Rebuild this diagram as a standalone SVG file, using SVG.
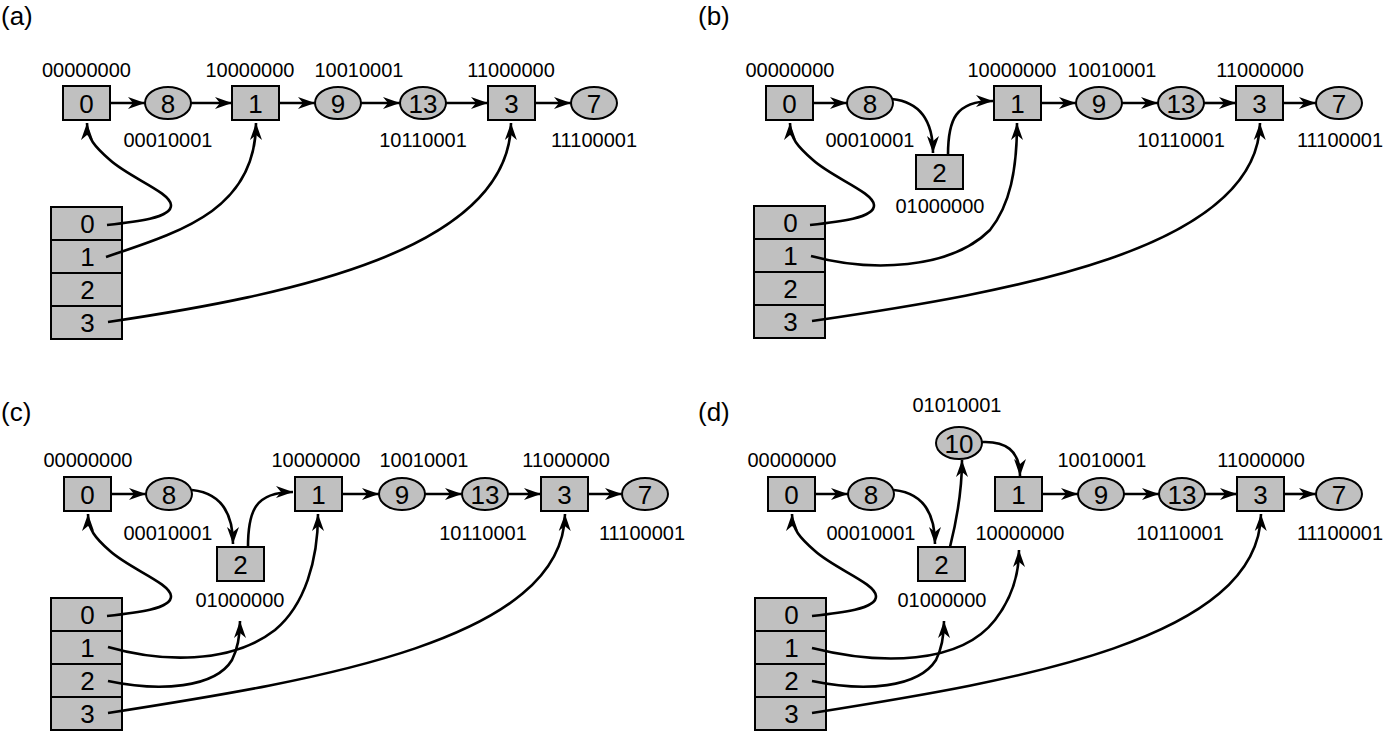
<svg xmlns="http://www.w3.org/2000/svg" width="1385" height="731" viewBox="0 0 1385 731">
<style>
.n{fill:#c0c0c0;stroke:#000;stroke-width:2}
.t{font-family:"Liberation Sans",Arial,sans-serif;font-size:26px;text-anchor:middle;fill:#000}
.l{font-family:"Liberation Sans",Arial,sans-serif;font-size:20px;text-anchor:middle;fill:#000}
.p{font-family:"Liberation Sans",Arial,sans-serif;font-size:26px;fill:#000}
.c{fill:none;stroke:#000;stroke-width:2.6;marker-end:url(#ah)}
</style>
<defs>
<marker id="ah" markerUnits="userSpaceOnUse" viewBox="-18 -7 19 14" refX="0" refY="0" markerWidth="19" markerHeight="14" orient="auto">
<path d="M0,0 L-17,-6 L-12,0 L-17,6 Z" fill="#000"/>
</marker>
</defs>
<rect width="1385" height="731" fill="#fff"/>

<!-- Panel labels -->
<text class="p" x="1" y="25">(a)</text>
<text class="p" x="698" y="25">(b)</text>
<text class="p" x="1" y="421">(c)</text>
<text class="p" x="698" y="421">(d)</text>

<!-- ===== Panel (a) ===== -->
<g id="a-n0"><rect class="n" x="63" y="86" width="47" height="34"/><text class="t" x="86.5" y="112.5">0</text><text class="l" x="86.5" y="77">00000000</text></g>
<g id="a-n8"><ellipse class="n" cx="168" cy="103" rx="23" ry="16"/><text class="t" x="168" y="112.5">8</text><text class="l" x="168" y="147">00010001</text></g>
<g id="a-n1"><rect class="n" x="232" y="86" width="47" height="34"/><text class="t" x="255.5" y="112.5">1</text><text class="l" x="250" y="77">10000000</text></g>
<g id="a-n9"><ellipse class="n" cx="338" cy="103" rx="23" ry="16"/><text class="t" x="338" y="112.5">9</text><text class="l" x="359" y="77">10010001</text></g>
<g id="a-n13"><ellipse class="n" cx="423" cy="103" rx="23" ry="16"/><text class="t" x="423" y="112.5">13</text><text class="l" x="423" y="147">10110001</text></g>
<g id="a-n3"><rect class="n" x="488" y="86" width="47" height="34"/><text class="t" x="511.5" y="112.5">3</text><text class="l" x="511" y="77">11000000</text></g>
<g id="a-n7"><ellipse class="n" cx="594" cy="103" rx="23" ry="16"/><text class="t" x="594" y="112.5">7</text><text class="l" x="594" y="147">11100001</text></g>
<g id="a-table">
<g id="a-r0"><rect class="n" x="51" y="207" width="71" height="33"/><text class="t" x="87.5" y="233">0</text></g>
<g id="a-r1"><rect class="n" x="51" y="240" width="71" height="33"/><text class="t" x="87.5" y="266">1</text></g>
<g id="a-r2"><rect class="n" x="51" y="273" width="71" height="33"/><text class="t" x="87.5" y="299">2</text></g>
<g id="a-r3"><rect class="n" x="51" y="306" width="71" height="33"/><text class="t" x="87.5" y="332">3</text></g>
</g>

<!-- ===== Panel (b) ===== -->
<g id="b-n0"><rect class="n" x="766" y="86" width="47" height="34"/><text class="t" x="789.5" y="112.5">0</text><text class="l" x="790" y="77">00000000</text></g>
<g id="b-n8"><ellipse class="n" cx="870" cy="103" rx="23" ry="16"/><text class="t" x="870" y="112.5">8</text><text class="l" x="870" y="147">00010001</text></g>
<g id="b-n2"><rect class="n" x="916" y="155" width="47" height="34"/><text class="t" x="939.5" y="181.5">2</text><text class="l" x="940" y="213">01000000</text></g>
<g id="b-n1"><rect class="n" x="994" y="86" width="47" height="34"/><text class="t" x="1017.5" y="112.5">1</text><text class="l" x="1012" y="77">10000000</text></g>
<g id="b-n9"><ellipse class="n" cx="1099" cy="103" rx="23" ry="16"/><text class="t" x="1099" y="112.5">9</text><text class="l" x="1112" y="77">10010001</text></g>
<g id="b-n13"><ellipse class="n" cx="1181" cy="103" rx="23" ry="16"/><text class="t" x="1181" y="112.5">13</text><text class="l" x="1181" y="147">10110001</text></g>
<g id="b-n3"><rect class="n" x="1236" y="86" width="47" height="34"/><text class="t" x="1259.5" y="112.5">3</text><text class="l" x="1260" y="77">11000000</text></g>
<g id="b-n7"><ellipse class="n" cx="1339" cy="103" rx="23" ry="16"/><text class="t" x="1339" y="112.5">7</text><text class="l" x="1340" y="147">11100001</text></g>
<g id="b-table">
<g id="b-r0"><rect class="n" x="754" y="206" width="71" height="33"/><text class="t" x="790.5" y="232">0</text></g>
<g id="b-r1"><rect class="n" x="754" y="239" width="71" height="33"/><text class="t" x="790.5" y="265">1</text></g>
<g id="b-r2"><rect class="n" x="754" y="272" width="71" height="33"/><text class="t" x="790.5" y="298">2</text></g>
<g id="b-r3"><rect class="n" x="754" y="305" width="71" height="33"/><text class="t" x="790.5" y="331">3</text></g>
</g>

<!-- ===== Panel (c) ===== -->
<g id="c-n0"><rect class="n" x="64" y="477" width="47" height="34"/><text class="t" x="87.5" y="503.5">0</text><text class="l" x="88" y="467">00000000</text></g>
<g id="c-n8"><ellipse class="n" cx="169" cy="494" rx="23" ry="16"/><text class="t" x="169" y="503.5">8</text><text class="l" x="168" y="540">00010001</text></g>
<g id="c-n2"><rect class="n" x="217" y="547" width="47" height="34"/><text class="t" x="240.5" y="573.5">2</text><text class="l" x="240" y="607">01000000</text></g>
<g id="c-n1"><rect class="n" x="295" y="477" width="47" height="34"/><text class="t" x="318.5" y="503.5">1</text><text class="l" x="316" y="467">10000000</text></g>
<g id="c-n9"><ellipse class="n" cx="402" cy="494" rx="23" ry="16"/><text class="t" x="402" y="503.5">9</text><text class="l" x="424" y="467">10010001</text></g>
<g id="c-n13"><ellipse class="n" cx="485" cy="494" rx="23" ry="16"/><text class="t" x="485" y="503.5">13</text><text class="l" x="483" y="540">10110001</text></g>
<g id="c-n3"><rect class="n" x="541" y="477" width="47" height="34"/><text class="t" x="564.5" y="503.5">3</text><text class="l" x="566" y="467">11000000</text></g>
<g id="c-n7"><ellipse class="n" cx="645" cy="494" rx="23" ry="16"/><text class="t" x="645" y="503.5">7</text><text class="l" x="642" y="540">11100001</text></g>
<g id="c-table">
<g id="c-r0"><rect class="n" x="51" y="598" width="71" height="33"/><text class="t" x="87.5" y="624">0</text></g>
<g id="c-r1"><rect class="n" x="51" y="631" width="71" height="33"/><text class="t" x="87.5" y="657">1</text></g>
<g id="c-r2"><rect class="n" x="51" y="664" width="71" height="33"/><text class="t" x="87.5" y="690">2</text></g>
<g id="c-r3"><rect class="n" x="51" y="697" width="71" height="33"/><text class="t" x="87.5" y="723">3</text></g>
</g>

<!-- ===== Panel (d) ===== -->
<g id="d-n0"><rect class="n" x="768" y="477" width="47" height="34"/><text class="t" x="791.5" y="503.5">0</text><text class="l" x="792" y="467">00000000</text></g>
<g id="d-n8"><ellipse class="n" cx="871" cy="494" rx="23" ry="16"/><text class="t" x="871" y="503.5">8</text><text class="l" x="871" y="540">00010001</text></g>
<g id="d-n2"><rect class="n" x="918" y="547" width="47" height="34"/><text class="t" x="941.5" y="573.5">2</text><text class="l" x="942" y="607">01000000</text></g>
<g id="d-n10"><ellipse class="n" cx="959" cy="443" rx="23" ry="16"/><text class="t" x="959" y="452.5">10</text><text class="l" x="957" y="412">01010001</text></g>
<g id="d-n1"><rect class="n" x="995" y="477" width="47" height="34"/><text class="t" x="1018.5" y="503.5">1</text><text class="l" x="1020" y="540">10000000</text></g>
<g id="d-n9"><ellipse class="n" cx="1101" cy="494" rx="23" ry="16"/><text class="t" x="1101" y="503.5">9</text><text class="l" x="1102" y="467">10010001</text></g>
<g id="d-n13"><ellipse class="n" cx="1182" cy="494" rx="23" ry="16"/><text class="t" x="1182" y="503.5">13</text><text class="l" x="1180" y="540">10110001</text></g>
<g id="d-n3"><rect class="n" x="1237" y="477" width="47" height="34"/><text class="t" x="1260.5" y="503.5">3</text><text class="l" x="1261" y="467">11000000</text></g>
<g id="d-n7"><ellipse class="n" cx="1339" cy="494" rx="23" ry="16"/><text class="t" x="1339" y="503.5">7</text><text class="l" x="1340" y="540">11100001</text></g>
<g id="d-table">
<g id="d-r0"><rect class="n" x="755" y="598" width="71" height="33"/><text class="t" x="791.5" y="624">0</text></g>
<g id="d-r1"><rect class="n" x="755" y="631" width="71" height="33"/><text class="t" x="791.5" y="657">1</text></g>
<g id="d-r2"><rect class="n" x="755" y="664" width="71" height="33"/><text class="t" x="791.5" y="690">2</text></g>
<g id="d-r3"><rect class="n" x="755" y="697" width="71" height="33"/><text class="t" x="791.5" y="723">3</text></g>
</g>

<!-- ===== Connectors ===== -->
<g id="connectors">
<!-- (a) -->
<path class="c" d="M110,103 H145"/>
<path class="c" d="M191,103 H232"/>
<path class="c" d="M279,103 H315"/>
<path class="c" d="M361,103 H400"/>
<path class="c" d="M446,103 H488"/>
<path class="c" d="M535,103 H571"/>
<path class="c" d="M107,225 C135,222 172,218 171,205 C170,192 130,178 110,160 C95,147 87,138 87,123"/>
<path class="c" d="M106,257 C180,232 256,210 256,123"/>
<path class="c" d="M108,322 C290,295 510,250 511,123"/>
<!-- (b) -->
<path class="c" d="M813,103 H847"/>
<path class="c" d="M1041,103 H1076"/>
<path class="c" d="M1122,103 H1158"/>
<path class="c" d="M1204,103 H1236"/>
<path class="c" d="M1283,103 H1316"/>
<path class="c" d="M892,99 C920,102 933,120 933,153"/>
<path class="c" d="M948,155 C948,120 955,101 993,101"/>
<path class="c" d="M810,225 C838,222 875,218 874,205 C873,192 833,178 813,160 C798,147 790,138 790,123"/>
<path class="c" d="M811,256 C870,272 950,270 990,230 C1010,205 1017,170 1017,123"/>
<path class="c" d="M812,321 C1010,292 1258,250 1260,123"/>
<!-- (c) -->
<path class="c" d="M111,494 H146"/>
<path class="c" d="M342,494 H379"/>
<path class="c" d="M425,494 H462"/>
<path class="c" d="M508,494 H541"/>
<path class="c" d="M588,494 H622"/>
<path class="c" d="M192,490 C220,493 233,511 233,544"/>
<path class="c" d="M248,547 C248,511 255,492 293,492"/>
<path class="c" d="M107,616 C135,613 172,609 171,596 C170,583 130,569 110,551 C95,538 88,529 88,514"/>
<path class="c" d="M108,647 C160,662 230,665 275,630 C305,605 318,560 318,514"/>
<path class="c" d="M108,681 C160,692 215,688 232,660 C238,648 240,635 240,621"/>
<path class="c" d="M108,713 C320,680 563,640 565,514"/>
<!-- (d) -->
<path class="c" d="M815,494 H848"/>
<path class="c" d="M1042,494 H1078"/>
<path class="c" d="M1124,494 H1159"/>
<path class="c" d="M1205,494 H1237"/>
<path class="c" d="M1284,494 H1316"/>
<path class="c" d="M894,490 C922,493 935,511 935,544"/>
<path class="c" d="M950,547 C958,515 962,490 962,460"/>
<path class="c" d="M982,442 C1005,441 1020,450 1020,476"/>
<path class="c" d="M812,616 C840,613 877,609 876,596 C875,583 835,569 815,551 C800,538 792,529 792,514"/>
<path class="c" d="M812,648 C880,665 960,665 995,620 C1012,598 1019,575 1019,550"/>
<path class="c" d="M812,681 C865,692 918,688 936,660 C942,648 944,635 944,621"/>
<path class="c" d="M812,713 C1020,680 1259,640 1261,514"/>
</g>
</svg>
